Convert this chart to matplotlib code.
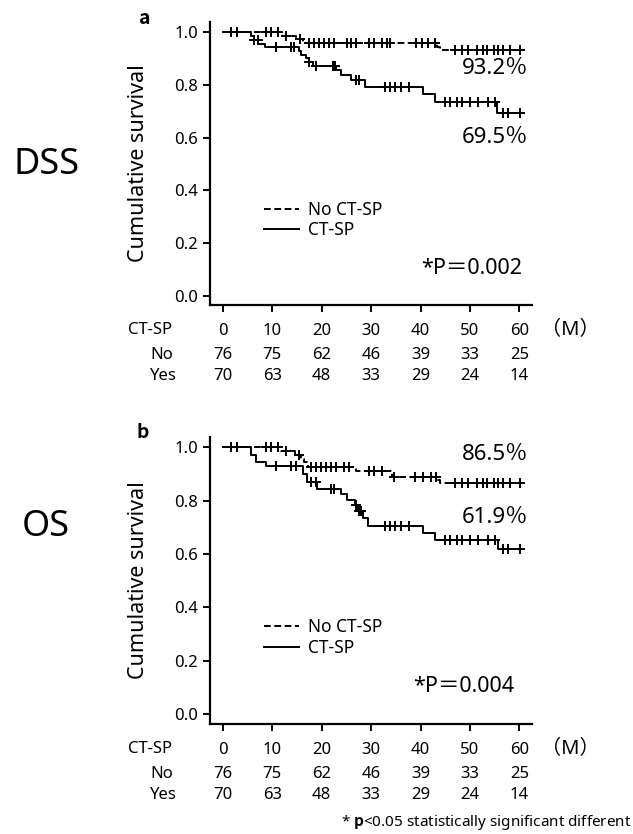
import numpy as np
import matplotlib
matplotlib.use("Agg")
import matplotlib.pyplot as plt
from matplotlib.lines import Line2D

plt.rcParams['font.family'] = ['Noto Sans', 'Noto Sans CJK JP', 'DejaVu Sans']
plt.rcParams['mathtext.fontset'] = 'custom'
plt.rcParams['mathtext.rm'] = 'Noto Sans'
plt.rcParams['mathtext.bf'] = 'Noto Sans CJK JP:bold'

# --- data ---
# DSS, No CT-SP
dss_no_t = [12.0, 14.9, 16.3, 43.3, 44.0]
dss_no_s = [0.987, 0.973, 0.959, 0.945, 0.932]
dss_no_c = [1.7, 2.8, 8.8, 9.8, 11.1, 12.8, 15.6, 17.5, 18.5, 19.5, 20.5, 21.5, 22.5,
            25.2, 25.9, 26.9, 29.6, 30.6, 32.3, 33.3, 33.9, 39.0, 40.3, 41.6, 43.0,
            47.0, 48.4, 49.7, 51.4, 52.7, 53.4, 54.8, 55.7, 56.7, 58.1, 60.1]
# DSS, CT-SP
dss_ct_t = [5.8, 6.3, 7.2, 8.6, 15.5, 15.8, 16.8, 17.4, 18.2, 23.0, 24.0, 26.0, 28.8, 40.6, 43.0, 55.4]
dss_ct_s = [0.986, 0.971, 0.957, 0.943, 0.929, 0.915, 0.901, 0.887, 0.873, 0.855, 0.838,
            0.818, 0.792, 0.765, 0.735, 0.695]
dss_ct_c = [6.4, 7.1, 10.8, 13.8, 14.5, 17.5, 18.8, 22.2, 22.7, 26.9, 27.6, 32.9, 33.9, 34.9,
            36.0, 37.6, 45.0, 46.0, 47.4, 48.4, 50.1, 51.7, 53.7, 55.1, 56.7, 57.7, 60.1]

# OS, No CT-SP
os_no_t = [11.8, 14.7, 15.8, 16.5, 17.3, 26.9, 34.3, 43.3, 44.0]
os_no_s = [0.986, 0.971, 0.957, 0.943, 0.928, 0.913, 0.889, 0.877, 0.865]
os_no_c = [1.7, 2.8, 8.8, 9.8, 11.1, 12.8, 15.4, 17.9, 18.9, 19.9, 20.9, 21.9, 22.9, 24.5,
           25.5, 29.6, 30.6, 32.3, 34.6, 38.8, 40.5, 42.1, 43.1,
           47.0, 48.4, 49.7, 51.4, 52.7, 53.4, 54.8, 55.7, 56.7, 58.1, 60.1]
# OS, CT-SP
os_ct_t = [5.8, 6.8, 8.8, 16.2, 17.1, 19.1, 24.0, 25.1, 26.7, 27.4, 28.4, 29.4, 40.6, 43.0, 55.7]
os_ct_s = [0.971, 0.943, 0.929, 0.900, 0.871, 0.843, 0.824, 0.804, 0.783, 0.763, 0.735,
           0.704, 0.679, 0.654, 0.619]
os_ct_c = [10.8, 13.8, 14.8, 17.8, 18.8, 21.9, 22.5, 26.9, 27.6, 28.0, 32.9, 33.9, 34.9,
           36.0, 37.6, 45.0, 46.0, 47.4, 48.4, 50.1, 51.7, 53.7, 55.1, 56.7, 57.7, 60.1]

months = [0, 10, 20, 30, 40, 50, 60]
dss_risk_no = [76, 75, 62, 46, 39, 33, 25]
dss_risk_yes = [70, 63, 48, 33, 29, 24, 14]
os_risk_no = [76, 75, 62, 46, 39, 33, 25]
os_risk_yes = [70, 63, 48, 33, 29, 24, 14]

panels = [
    dict(letter='a', name='DSS', p='*P＝0.002', no=(dss_no_t, dss_no_s, dss_no_c),
         ct=(dss_ct_t, dss_ct_s, dss_ct_c), pct_no='93.2％', pct_ct='69.5％',
         pct_no_y=0.864, pct_ct_y=0.602, p_x=60.5, risk=(dss_risk_no, dss_risk_yes)),
    dict(letter='b', name='OS', p='*P＝0.004', no=(os_no_t, os_no_s, os_no_c),
         ct=(os_ct_t, os_ct_s, os_ct_c), pct_no='86.5％', pct_ct='61.9％',
         pct_no_y=0.974, pct_ct_y=0.737, p_x=59.0, risk=(os_risk_no, os_risk_yes)),
]


def km(ax, t, s, c, ls):
    tt = np.concatenate([[0.0], t, [60.3]])
    ss = np.concatenate([[1.0], s, [s[-1]]])
    ax.step(tt, ss, where='post', color='black', lw=1.4, linestyle=ls)
    idx = np.searchsorted(tt, c, side='right') - 1
    ax.plot(c, ss[idx], linestyle='none', marker='+', ms=7.5, mew=1.4, color='black')


fig = plt.figure(figsize=(6.33, 8.34), dpi=100)
axes_pos = [[0.332, 0.634, 0.508, 0.340], [0.332, 0.132, 0.508, 0.3445]]
name_pos = [(0.074, 0.802), (0.073, 0.368)]
letter_pos = [(0.229, 0.978), (0.226, 0.482)]

for i, pn in enumerate(panels):
    ax = fig.add_axes(axes_pos[i])
    km(ax, *pn['no'], ls=(0, (3.5, 1.8)))
    km(ax, *pn['ct'], ls='-')
    ax.set_xlim(-2.56, 62.5)
    ax.set_ylim(-0.036, 1.04)
    ax.spines[['top', 'right']].set_visible(False)
    ax.spines[['left', 'bottom']].set_linewidth(1.6)
    ax.set_yticks([0.0, 0.2, 0.4, 0.6, 0.8, 1.0])
    ax.set_yticklabels(['0.0', '0.2', '0.4', '0.6', '0.8', '1.0'], fontsize=12)
    ax.set_xticks(months)
    ax.set_xticklabels([str(m) for m in months], fontsize=12)
    ax.tick_params(axis='both', length=5, width=1.4)
    ax.tick_params(axis='x', pad=8)
    ax.set_ylabel('Cumulative survival', fontsize=15.5)
    ax.yaxis.set_label_coords(-0.19, 0.5)

    ax.text(61.8, pn['pct_no_y'], pn['pct_no'], fontsize=16, ha='right', va='center')
    ax.text(61.8, pn['pct_ct_y'], pn['pct_ct'], fontsize=16, ha='right', va='center')
    ax.text(pn['p_x'], 0.105, pn['p'], fontsize=15.5, ha='right', va='center')

    handles = [Line2D([], [], color='black', lw=1.4, linestyle=(0, (3.5, 1.8))),
               Line2D([], [], color='black', lw=1.4)]
    ax.legend(handles, ['No CT-SP', 'CT-SP'], loc='center left', bbox_to_anchor=(0.12, 0.30),
              frameon=False, fontsize=12.5, handlelength=2.0, handletextpad=0.5,
              labelspacing=0.15)

    # risk table
    tr = ax.get_xaxis_transform()
    ax.annotate('CT-SP', xy=(-2.56, 0), xycoords=tr, xytext=(-59, -18), textcoords='offset points',
                fontsize=12, ha='left', va='center')
    ax.annotate('（M）', xy=(60, 0), xycoords=tr, xytext=(37, -18), textcoords='offset points',
                fontsize=14.5, ha='center', va='center')
    ax.annotate('No', xy=(-2.56, 0), xycoords=tr, xytext=(-43, -36), textcoords='offset points',
                fontsize=12, ha='left', va='center')
    ax.annotate('Yes', xy=(-2.56, 0), xycoords=tr, xytext=(-43, -51), textcoords='offset points',
                fontsize=12, ha='left', va='center')
    for m, a, b in zip(months, *pn['risk']):
        ax.annotate(str(a), xy=(m, 0), xycoords=tr, xytext=(0, -36), textcoords='offset points',
                    fontsize=12, ha='center', va='center')
        ax.annotate(str(b), xy=(m, 0), xycoords=tr, xytext=(0, -51), textcoords='offset points',
                    fontsize=12, ha='center', va='center')

    fig.text(*name_pos[i], pn['name'], fontsize=26, ha='center', va='center')
    fig.text(*letter_pos[i], pn['letter'], fontsize=14, fontweight='bold', ha='center', va='center',
             family='Noto Sans CJK JP')

fig.text(0.997, 0.014, r'* $\mathbf{p}$<0.05 statistically significant different', fontsize=11,
         ha='right', va='center')

fig.savefig('out.png', dpi=100)
